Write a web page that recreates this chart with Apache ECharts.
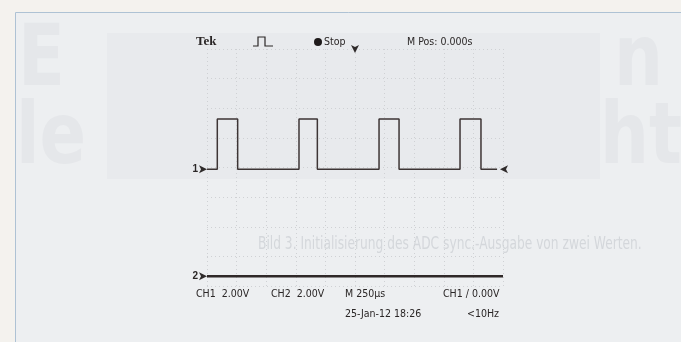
<!DOCTYPE html>
<html>
<head>
<meta charset="utf-8">
<script src="https://cdn.jsdelivr.net/npm/echarts@6/dist/echarts.min.js"></script>
<style>
  html, body { margin: 0; padding: 0; background: #f4f2ee; }
  #container { width: 681px; height: 342px; }
</style>
</head>
<body>
<div id="container"></div>
<script>
// time base: M 250us per division, 10 divisions
var timeTicks = [0, 250, 500, 750, 1000, 1250, 1500, 1750, 2000, 2250, 2500];
// CH1 square wave, edge times in microseconds
var ch1Rise = [87, 777, 1453, 2137];
var ch1Fall = [259, 932, 1622, 2314];
var ch1Low = 0;        // volts
var ch1High = 3.4;     // volts
var ch1Span = [0, 2450];
var ch1Pos = -0.06;    // ground marker, divisions from centre
// CH2 flat at 0 V
var ch2Times = [0, 2500];
var ch2Volts = [0, 0];
var ch2Pos = -3.67;
var voltsPerDiv = 2.0;
var trigLevel = 0.0;

var dom = document.getElementById('container');
var myChart = echarts.init(dom, null, { renderer: 'canvas' });

function toDiv(pos, v) { return pos + v / voltsPerDiv; }

var ch1Data = [[ch1Span[0], toDiv(ch1Pos, ch1Low)]];
for (var i = 0; i < ch1Rise.length; i++) {
  ch1Data.push([ch1Rise[i], toDiv(ch1Pos, ch1Low)]);
  ch1Data.push([ch1Rise[i], toDiv(ch1Pos, ch1High)]);
  ch1Data.push([ch1Fall[i], toDiv(ch1Pos, ch1High)]);
  ch1Data.push([ch1Fall[i], toDiv(ch1Pos, ch1Low)]);
}
ch1Data.push([ch1Span[1], toDiv(ch1Pos, ch1Low)]);

var ch2Data = ch2Times.map(function (t, k) { return [t, toDiv(ch2Pos, ch2Volts[k])]; });

var sans = '"DejaVu Sans", sans-serif';
var ink = '#2a2626';
var ghost = '#e5e7ea';
var bigFont = 'bold 86px ' + sans;

// condensed look: squeeze text horizontally
function label(x, y, s, font, sx) {
  return { type: 'text', x: x, y: y, z: 10, scaleX: sx || 0.86,
    style: { text: s, fill: ink, font: font || ('11px ' + sans), verticalAlign: 'middle', align: 'left' } };
}
function ghostText(x, y, s) {
  return { type: 'text', x: x, y: y, z: -8, scaleX: 0.8,
    style: { text: s, fill: ghost, font: bigFont } };
}

var option = {
  animation: false,
  backgroundColor: '#f4f2ee',
  graphic: [
    // magazine page + bleed-through from the back side
    { type: 'rect', shape: { x: 15.5, y: 12.5, width: 700, height: 340 }, z: -10,
      style: { fill: '#edeff1', stroke: '#aec2d4', lineWidth: 1 } },
    { type: 'rect', shape: { x: 107, y: 33, width: 493, height: 146 }, z: -9,
      style: { fill: '#e8eaed' } },
    ghostText(18, 20, 'E'),
    ghostText(16, 98, 'le'),
    ghostText(614, 20, 'n'),
    ghostText(600, 98, 'ht'),
    { type: 'text', x: 258, y: 245, z: -8, scaleX: 0.72,
      style: { text: 'Bild 3. Initialisierung des ADC sync.-Ausgabe von zwei Werten.', fill: '#d4d7db', font: '17px ' + sans, verticalAlign: 'middle' } },
    // scope header
    label(196, 42, 'Tek', 'bold 13px "Liberation Serif", "DejaVu Serif", serif', 1),
    { type: 'polyline', z: 10, shape: { points: [[253, 46], [258, 46], [258, 37], [265, 37], [265, 46], [273, 46]] },
      style: { stroke: ink, lineWidth: 1.2, fill: null } },
    { type: 'circle', z: 10, shape: { cx: 318, cy: 42, r: 4 }, style: { fill: '#1e1a1a' } },
    label(324, 42, 'Stop'),
    label(407, 42, 'M Pos: 0.000s'),
    // scope footer
    label(196, 294, 'CH1  2.00V'),
    label(271, 294, 'CH2  2.00V'),
    label(345, 294, 'M 250\u00b5s'),
    label(443, 294, 'CH1 \u2215 0.00V'),
    label(345, 314, '25-Jan-12 18:26'),
    label(467, 314, '<10Hz')
  ],
  grid: { left: 207, top: 49, width: 296, height: 237, containLabel: false },
  xAxis: {
    type: 'value', min: timeTicks[0], max: timeTicks[timeTicks.length - 1], interval: 250,
    axisLine: { show: false }, axisTick: { show: false }, axisLabel: { show: false },
    splitLine: { show: true, showMinLine: true, showMaxLine: true,
      lineStyle: { color: '#cfd1d4', type: [1, 3], width: 1 } }
  },
  yAxis: {
    type: 'value', min: -4, max: 4, interval: 1,
    axisLine: { show: false }, axisTick: { show: false }, axisLabel: { show: false },
    splitLine: { show: true, showMinLine: true, showMaxLine: true,
      lineStyle: { color: '#cfd1d4', type: [1, 3], width: 1 } }
  },
  series: [
    {
      name: 'CH1', type: 'line', data: ch1Data, showSymbol: false, symbol: 'none',
      lineStyle: { color: '#3d3535', width: 1.5 },
      markPoint: {
        symbol: 'arrow', symbolSize: [6, 8], silent: true,
        itemStyle: { color: '#2e2a2a' },
        label: { show: false },
        data: [
          { coord: [0, ch1Pos], symbolRotate: -90,
            label: { show: true, position: 'left', distance: 1, formatter: '1', color: ink, fontSize: 10, fontWeight: 'bold' } },
          { coord: [1250, 4], symbolRotate: 180, symbolOffset: [0, 4] },
          { coord: [2500, toDiv(ch1Pos, trigLevel)], symbolRotate: 90, symbolOffset: [-3, 0] }
        ]
      }
    },
    {
      name: 'CH2', type: 'line', data: ch2Data, showSymbol: false, symbol: 'none',
      lineStyle: { color: '#2f2828', width: 2.6 },
      markPoint: {
        symbol: 'arrow', symbolSize: [6, 8], silent: true,
        itemStyle: { color: '#2e2a2a' },
        data: [
          { coord: [0, ch2Pos], symbolRotate: -90,
            label: { show: true, position: 'left', distance: 1, formatter: '2', color: ink, fontSize: 10, fontWeight: 'bold' } }
        ]
      }
    }
  ]
};

if (option && typeof option === 'object') {
  myChart.setOption(option);
}
</script>
</body>
</html>
